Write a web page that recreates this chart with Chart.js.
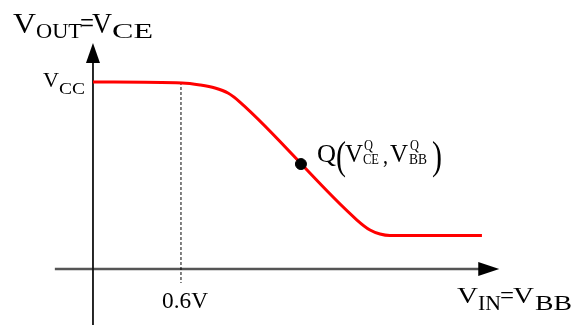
<!DOCTYPE html>
<html>
<head>
<meta charset="utf-8">
<script src="https://cdn.jsdelivr.net/npm/chart.js@4.4.0/dist/chart.umd.min.js"></script>
<style>
  html, body { margin: 0; padding: 0; background: #fff; }
  #wrap { width: 573px; height: 325px; }
</style>
</head>
<body>
<div id="wrap"><canvas id="c"></canvas></div>
<script>
// transfer curve (arbitrary volts, Vcc = 5)
const vin = [0, 0.607, 0.73, 0.832, 0.92, 1.002, 1.80, 1.889, 1.957, 2.025, 2.652];
const vout = [5.0, 4.973, 4.92, 4.84, 4.706, 4.465, 1.31, 1.043, 0.936, 0.896, 0.896];

// dashed marker at the 0.6V threshold
const threshX = [0.6, 0.6];
const threshY = [5.0, -0.374];

// operating point Q
const qX = [1.418];
const qY = [2.807];

const VCC = 5.0;

const serif = '"Liberation Serif", "Times New Roman", serif';

// draw a piece of text squeezed/stretched to a given width
function seg(ctx, s, x, base, size, w) {
  ctx.save();
  ctx.font = size + 'px ' + serif;
  const m = ctx.measureText(s).width;
  ctx.translate(x, base);
  ctx.scale(w / m, 1);
  ctx.fillText(s, 0, 0);
  ctx.restore();
}

const axesPlugin = {
  id: 'axesArrows',
  beforeDatasetsDraw(chart) {
    const ctx = chart.ctx;
    const xs = chart.scales.x, ys = chart.scales.y;
    const x0 = xs.getPixelForValue(0), y0 = ys.getPixelForValue(0);
    const xTip = xs.getPixelForValue(2.77);
    const yTip = ys.getPixelForValue(6.04);

    ctx.save();
    // horizontal axis
    ctx.strokeStyle = '#555';
    ctx.lineWidth = 2.5;
    ctx.beginPath();
    ctx.moveTo(xs.getPixelForValue(-0.26), y0);
    ctx.lineTo(xTip - 18, y0);
    ctx.stroke();
    ctx.fillStyle = '#000';
    ctx.beginPath();
    ctx.moveTo(xTip, y0);
    ctx.lineTo(xTip - 21, y0 - 7);
    ctx.lineTo(xTip - 21, y0 + 7);
    ctx.closePath();
    ctx.fill();

    // vertical axis
    ctx.strokeStyle = '#111';
    ctx.lineWidth = 1.8;
    ctx.beginPath();
    ctx.moveTo(x0, ys.getPixelForValue(-1.5));
    ctx.lineTo(x0, yTip + 18);
    ctx.stroke();
    ctx.beginPath();
    ctx.moveTo(x0, yTip);
    ctx.lineTo(x0 - 7, yTip + 20);
    ctx.lineTo(x0 + 7, yTip + 20);
    ctx.closePath();
    ctx.fill();
    ctx.restore();
  },
  afterDatasetsDraw(chart) {
    const ctx = chart.ctx;
    ctx.save();
    ctx.fillStyle = '#000';
    ctx.textBaseline = 'alphabetic';

    // V_OUT = V_CE
    seg(ctx, 'V', 13, 33, 30, 23);
    seg(ctx, 'OUT', 36, 38, 20, 46);
    seg(ctx, '=', 80, 33, 30, 14);
    seg(ctx, 'V', 92, 33, 30, 20);
    seg(ctx, 'CE', 112, 38, 20, 41);

    // V_CC
    const yc = chart.scales.y.getPixelForValue(VCC);
    seg(ctx, 'V', 43, yc + 5, 20, 16);
    seg(ctx, 'CC', 59, yc + 12, 17, 26);

    // 0.6V
    seg(ctx, '0.6V', 162, 308, 24, 46);

    // V_IN = V_BB
    seg(ctx, 'V', 457, 303, 24, 21);
    seg(ctx, 'IN', 478, 310, 22, 23);
    seg(ctx, '=', 500, 303, 24, 14);
    seg(ctx, 'V', 513, 303, 24, 21);
    seg(ctx, 'BB', 535, 310, 22, 37);

    // Q(V^Q_CE , V^Q_BB)
    seg(ctx, 'Q', 317, 162, 25, 19);
    seg(ctx, '(', 336, 169, 40, 10);
    seg(ctx, 'V', 345, 162, 25, 18);
    seg(ctx, 'Q', 364, 150, 14, 9);
    seg(ctx, 'CE', 363, 164, 14, 16);
    seg(ctx, ',', 383, 163, 24, 5);
    seg(ctx, 'V', 390, 162, 25, 18);
    seg(ctx, 'Q', 410, 150, 14, 9);
    seg(ctx, 'BB', 409, 164, 14, 18);
    seg(ctx, ')', 432, 169, 40, 10);
    ctx.restore();
  }
};

new Chart(document.getElementById('c'), {
  type: 'scatter',
  data: {
    datasets: [
      {
        data: vin.map((v, i) => ({ x: v, y: vout[i] })),
        showLine: true,
        borderColor: '#ff0000',
        borderWidth: 3,
        pointRadius: 0,
        cubicInterpolationMode: 'monotone',
        order: 2
      },
      {
        data: threshX.map((v, i) => ({ x: v, y: threshY[i] })),
        showLine: true,
        borderColor: '#000',
        borderWidth: 1,
        borderDash: [3, 2],
        pointRadius: 0,
        order: 3
      },
      {
        data: qX.map((v, i) => ({ x: v, y: qY[i] })),
        backgroundColor: '#000',
        borderColor: '#000',
        pointRadius: 5.5,
        order: 1
      }
    ]
  },
  options: {
    responsive: true,
    maintainAspectRatio: false,
    animation: false,
    layout: { padding: 0, autoPadding: false },
    plugins: {
      legend: { display: false },
      tooltip: { enabled: false }
    },
    scales: {
      x: { type: 'linear', display: false, min: -0.634, max: 3.273 },
      y: { type: 'linear', display: false, min: -1.497, max: 7.193 }
    }
  },
  plugins: [axesPlugin]
});
</script>
</body>
</html>
